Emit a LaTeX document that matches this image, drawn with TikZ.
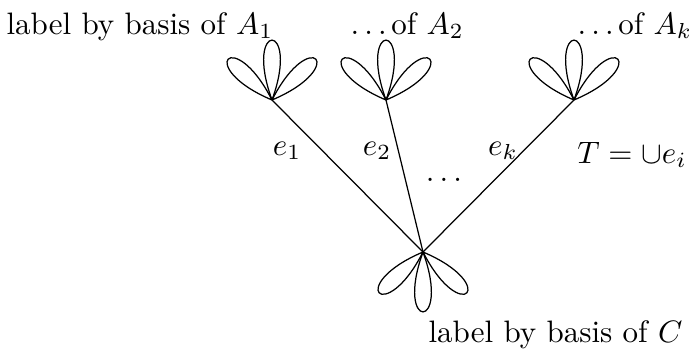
\documentclass[tikz,border=0pt]{standalone}
\newcommand\mypetal[2]{\draw (#1) .. controls +(#2-20:85) and +(#2+20:85) .. (#1);}
\newcommand\myflower[2]{\mypetal{#1}{#2-47}\mypetal{#1}{#2}\mypetal{#1}{#2+47}}
\begin{document}
\begin{tikzpicture}[x=0.3226pt,y=-0.3226pt,
  lbl/.style={anchor=base west,inner sep=0pt},
  elbl/.style={anchor=base,inner sep=0pt}]
\useasboundingbox (0,0) rectangle (693,356);
\coordinate (v1) at (272,100);
\coordinate (v2) at (386,100);
\coordinate (v3) at (574,100);
\coordinate (b) at (423,252);
\draw (v1) -- (b);
\draw (v2) -- (b);
\draw (v3) -- (b);
\myflower{v1}{270}
\myflower{v2}{270}
\myflower{v3}{270}
\myflower{b}{90}
\node[lbl] (l1) at (6,34) {label by basis of $A_1$};
\node[lbl] (l2) at (350,34) {$\ldots$\hspace{1.5pt}of $A_2$};
\node[lbl] (l3) at (577,34) {$\ldots$\hspace{1.5pt}of $A_k$};
\node[lbl] (lc) at (428,342) {label by basis of $C$};
\node[elbl] (e1) at (287,155) {$e_1$};
\node[elbl] (e2) at (377,155) {$e_2$};
\node[elbl] (ek) at (503,155) {$e_k$};
\node[inner sep=0pt] (dots) at (444,180) {$\ldots$};
\node[elbl] (T) at (632,163) {$T=\cup e_i$};
\end{tikzpicture}
\end{document}
